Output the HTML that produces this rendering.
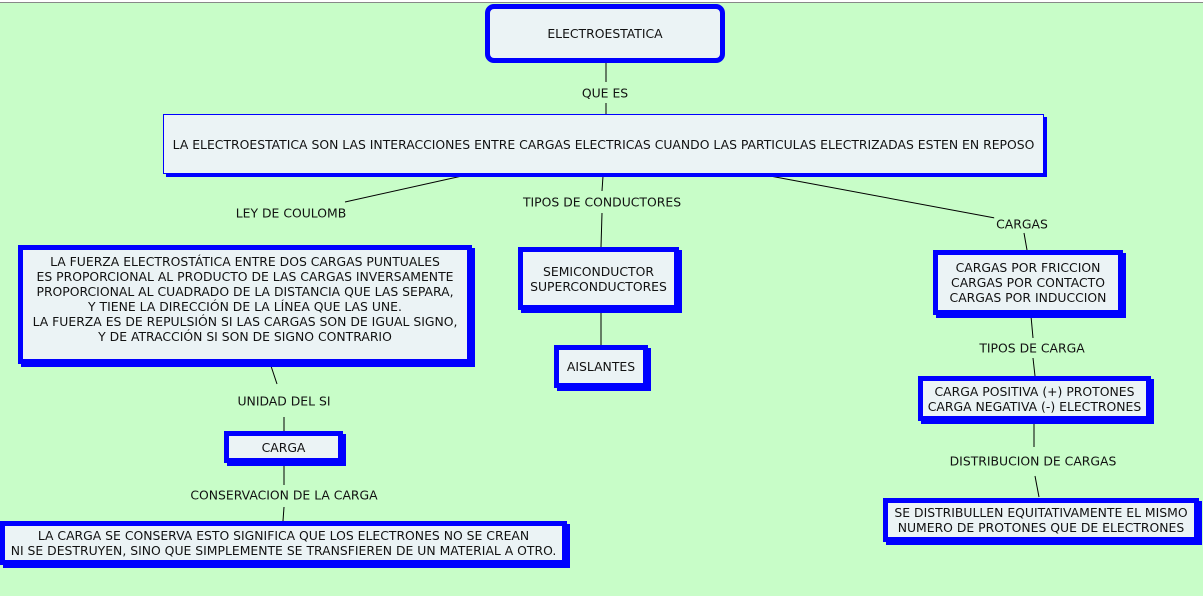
<!DOCTYPE html>
<html><head><meta charset="utf-8"><style>
html,body{margin:0;padding:0}
body{width:1203px;height:596px;background:#c8fdc8;position:relative;overflow:hidden;font-family:"DejaVu Sans","Liberation Sans",sans-serif;font-size:12.4px;color:#111}
.top{position:absolute;left:0;top:0;width:1203px;height:2px;background:#fff;border-bottom:1px solid #888}
.b{position:absolute;box-sizing:border-box;border:5px solid #0000ff;background:#ebf3f5;box-shadow:3px 3px 0 #0000ff;display:flex;align-items:center;justify-content:center;text-align:center;line-height:15px;white-space:nowrap}
.l{position:absolute;transform:translate(-50%,-50%);white-space:nowrap;background:#c8fdc8;padding:0 2px}
svg{position:absolute;left:0;top:0}
</style></head><body>
<div class="top"></div>
<svg width="1203" height="596"><g stroke="#000" stroke-width="1">
<line x1="606" y1="63" x2="606" y2="82"/><line x1="606" y1="103" x2="606" y2="114"/>
<line x1="462" y1="176" x2="345" y2="202"/><line x1="603" y1="176" x2="602" y2="191"/>
<line x1="770" y1="176" x2="995" y2="218"/><line x1="1024" y1="233" x2="1027" y2="250"/>
<line x1="602" y1="213" x2="601" y2="247"/><line x1="601" y1="313" x2="601" y2="345"/>
<line x1="271" y1="366" x2="277" y2="384"/><line x1="284" y1="417" x2="284" y2="432"/>
<line x1="284" y1="465" x2="284" y2="485"/><line x1="284" y1="507" x2="283" y2="521"/>
<line x1="1031" y1="316" x2="1033" y2="338"/><line x1="1033" y1="358" x2="1035" y2="376"/>
<line x1="1034" y1="423" x2="1034" y2="447"/><line x1="1035" y1="476" x2="1039" y2="497"/>
</g></svg>
<div class="b" style="left:485px;top:4px;width:240px;height:59px;border-radius:9px;box-shadow:none">ELECTROESTATICA</div>
<div class="l" style="left:605px;top:93px">QUE ES</div>
<div class="b" style="left:163px;top:114px;width:881px;height:60px;border-width:1px;box-shadow:3px 3px 0 #0000ff">LA ELECTROESTATICA SON LAS INTERACCIONES ENTRE CARGAS ELECTRICAS CUANDO LAS PARTICULAS ELECTRIZADAS ESTEN EN REPOSO</div>
<div class="l" style="left:291px;top:213px">LEY DE COULOMB</div>
<div class="l" style="left:602px;top:202px">TIPOS DE CONDUCTORES</div>
<div class="l" style="left:1022px;top:224px">CARGAS</div>
<div class="b" style="left:18px;top:245px;height:119px;width:454px;align-items:flex-start;padding-top:4px">LA FUERZA ELECTROSTÁTICA ENTRE DOS CARGAS PUNTUALES<br>ES PROPORCIONAL AL PRODUCTO DE LAS CARGAS INVERSAMENTE<br>PROPORCIONAL AL CUADRADO DE LA DISTANCIA QUE LAS SEPARA,<br>Y TIENE LA DIRECCIÓN DE LA LÍNEA QUE LAS UNE.<br>LA FUERZA ES DE REPULSIÓN SI LAS CARGAS SON DE IGUAL SIGNO,<br>Y DE ATRACCIÓN SI SON DE SIGNO CONTRARIO</div>
<div class="b" style="left:518px;top:247px;width:161px;height:63px">SEMICONDUCTOR<br>SUPERCONDUCTORES</div>
<div class="b" style="left:554px;top:345px;width:94px;height:43px">AISLANTES</div>
<div class="l" style="left:284px;top:401px">UNIDAD DEL SI</div>
<div class="b" style="left:224px;top:431px;width:119px;height:32px">CARGA</div>
<div class="l" style="left:284px;top:495px">CONSERVACION DE LA CARGA</div>
<div class="b" style="left:0px;top:521px;width:567px;height:44px">LA CARGA SE CONSERVA ESTO SIGNIFICA QUE LOS ELECTRONES NO SE CREAN<br>NI SE DESTRUYEN, SINO QUE SIMPLEMENTE SE TRANSFIEREN DE UN MATERIAL A OTRO.</div>
<div class="b" style="left:933px;top:250px;width:190px;height:65px">CARGAS POR FRICCION<br>CARGAS POR CONTACTO<br>CARGAS POR INDUCCION</div>
<div class="l" style="left:1032px;top:348px">TIPOS DE CARGA</div>
<div class="b" style="left:918px;top:376px;width:233px;height:45px">CARGA POSITIVA (+) PROTONES<br>CARGA NEGATIVA (-) ELECTRONES</div>
<div class="l" style="left:1033px;top:461px">DISTRIBUCION DE CARGAS</div>
<div class="b" style="left:883px;top:498px;width:316px;height:44px">SE DISTRIBULLEN EQUITATIVAMENTE EL MISMO<br>NUMERO DE PROTONES QUE DE ELECTRONES</div>
</body></html>
